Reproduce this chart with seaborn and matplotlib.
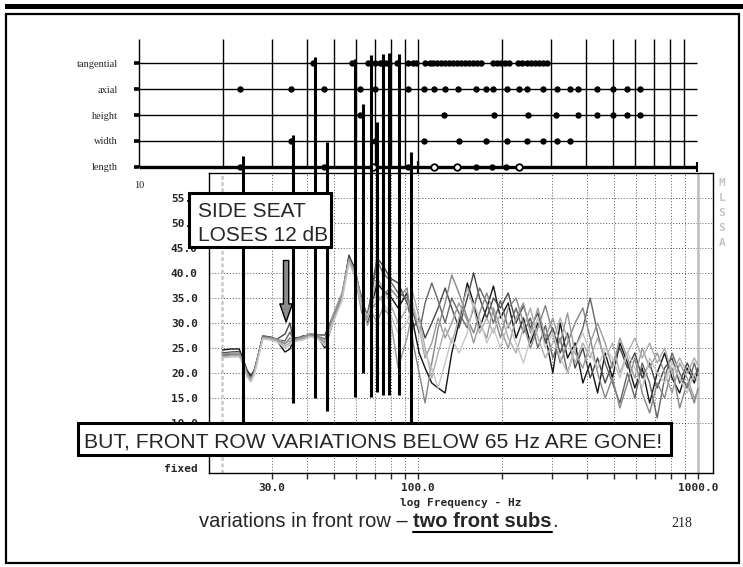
import matplotlib
matplotlib.use("Agg")
import matplotlib.pyplot as plt
from matplotlib.patches import Rectangle
from matplotlib.lines import Line2D
from matplotlib.ticker import NullLocator
import pandas as pd
import seaborn as sns

W, H = 743, 567
sns.set_style("white")
plt.rcParams["font.family"] = ["Liberation Sans", "DejaVu Sans"]
MONO = "DejaVu Sans Mono"
SERIF = "Liberation Serif"

# ── room-mode chart (top) ─────────────────────────────────────────────────────
ROW_LABELS = ["length", "width", "height", "axial", "tangential"]
MODAL_GRID_HZ = [10, 20, 30, 40, 50, 60, 70, 80, 90,
                 100, 200, 300, 400, 500, 600, 700, 800, 900]
TANGENTIAL_HZ = [42, 58, 66, 70, 73, 74, 77, 79, 84, 92, 96, 98,
                 106, 110, 113, 117, 121, 125, 129, 133, 138, 143, 147, 152,
                 157, 163, 168, 186, 192, 198, 205, 212, 228, 236, 246, 254,
                 262, 272, 280, 290]
AXIAL_HZ = [23, 35, 46, 62, 70, 92, 105, 114, 125, 139, 161, 175, 186, 208,
            230, 246, 280, 315, 351, 374, 439, 500, 561, 625]
HEIGHT_HZ = [62, 124, 187, 248, 313, 374, 439, 500, 561, 625]
WIDTH_HZ = [35, 70, 105, 140, 175, 208, 246, 280, 315, 351]
LENGTH_HZ = [23, 46, 92, 161, 184, 207]
LENGTH_OPEN_HZ = [69, 114, 138, 230]

# thick mode markers: frequency, top (row units), bottom (dB in lower chart)
MODE_HZ = [23.6, 35.6, 42.7, 47.2, 59.5, 63.5, 67.9, 71.3, 74.9, 78.7, 85.5, 94.4]
MODE_TOP = [0.42, 1.23, 4.23, 0.96, 4.15, 2.42, 4.31, 1.73, 4.35, 4.38, 4.35, 0.58]
MODE_END_DB = [8, 14, 15, 12.4, 15.2, 20, 15.2, 16.2, 15.6, 15.6, 15.6, 8]

# ── MLSSA response curves (bottom) ────────────────────────────────────────────
FREQ = [20, 21.5, 23, 23.7, 24.5, 25.3, 26, 26.6, 27.9, 29.6, 31.4, 33.5,
        34.9, 35.8, 38.8, 41.1, 43.6, 46.5, 49.7, 53.5, 56.7, 59.6,
        63, 66, 68.5, 71.4, 75, 79.4, 84.9, 91.4, 96, 101, 106, 112, 118,
        125, 132, 140, 150, 158, 166, 176, 186, 197, 210, 224, 238, 252,
        268, 285, 303, 322, 342, 364, 388, 412, 438, 466, 495, 526, 560,
        595, 632, 672, 715, 760, 808, 860, 915, 970, 1000]
seat_a = [24.6, 24.8, 24.8, 22.8, 20.6, 19.4, 20.6, 22.6, 27.4, 27.2, 26.4, 24.2,
          24.8, 26.4, 27.4, 27.6, 27.4, 25.0, 30.2, 35.0, 43.4, 40.8,
          34.0, 30.0, 33.5, 38.0, 36.5, 35.5, 33.0, 36.0, 30.0, 24.0, 21.0, 18.0, 17.0,
          16.0, 24.0, 30.0, 38.0, 34.0, 29.0, 33.0, 37.4, 31.0, 34.0, 27.0, 31.0, 26.0,
          30.0, 27.5, 20.0, 30.0, 23.0, 26.0, 18.0, 22.0, 16.0, 24.0, 19.0, 26.0, 22.0,
          17.0, 21.0, 14.0, 20.0, 24.0, 19.0, 16.0, 21.0, 18.0, 20.6]
seat_b = [24.0, 24.2, 24.3, 22.6, 20.2, 19.0, 20.4, 22.6, 27.2, 27.2, 26.8, 27.8,
          30.0, 27.0, 27.2, 27.8, 27.6, 27.6, 31.4, 35.4, 43.6, 40.0,
          35.0, 31.0, 37.0, 43.0, 41.5, 39.0, 38.0, 34.0, 29.0, 31.0, 27.0, 30.0, 33.0,
          37.0, 33.0, 29.0, 35.0, 40.0, 35.0, 31.0, 35.0, 33.0, 36.0, 30.0, 33.5, 29.0,
          32.0, 26.0, 29.0, 24.0, 28.0, 21.0, 25.0, 19.0, 23.0, 18.0, 22.0, 25.0, 21.0,
          24.0, 19.0, 22.0, 17.0, 21.0, 23.0, 18.0, 22.0, 19.0, 21.0]
seat_c = [23.6, 23.8, 23.8, 22.4, 19.8, 18.8, 20.2, 22.4, 27.4, 27.2, 26.6, 26.4,
          28.2, 26.8, 27.2, 27.8, 27.4, 26.8, 31.0, 35.2, 43.0, 39.6,
          33.0, 32.0, 36.0, 42.5, 40.0, 38.5, 36.0, 35.0, 32.0, 28.0, 34.0, 38.0, 34.5,
          30.0, 35.0, 32.0, 29.0, 33.0, 37.0, 34.0, 30.0, 34.5, 29.0, 33.0, 28.0, 31.0,
          25.0, 29.5, 23.0, 27.0, 20.0, 25.0, 29.0, 35.0, 28.0, 22.0, 18.0, 14.0, 20.0,
          15.0, 22.0, 18.0, 11.0, 19.0, 24.0, 20.0, 17.0, 22.0, 19.5]
seat_d = [23.4, 23.6, 23.6, 22.2, 19.6, 18.6, 20.0, 22.2, 27.2, 27.0, 26.6, 25.8,
          27.0, 26.6, 27.0, 27.6, 27.2, 26.2, 30.8, 35.6, 42.6, 39.4,
          32.0, 31.0, 33.0, 34.2, 35.5, 37.0, 35.0, 37.0, 26.0, 20.0, 14.0, 22.0, 29.0,
          34.0, 39.6, 36.0, 31.0, 28.0, 32.0, 36.0, 32.0, 27.0, 33.0, 35.0, 30.0, 25.0,
          29.0, 33.5, 28.0, 22.0, 26.0, 30.0, 33.0, 27.0, 20.0, 15.0, 19.0, 13.0, 18.0,
          23.0, 16.0, 12.0, 18.0, 15.0, 21.0, 13.0, 18.0, 14.0, 17.0]
seat_e = [23.8, 24.0, 24.0, 22.4, 20.0, 18.8, 20.2, 22.6, 27.0, 27.0, 26.8, 26.0,
          26.4, 26.6, 27.2, 27.8, 27.8, 26.0, 31.6, 36.0, 42.8, 40.4,
          34.5, 29.5, 32.0, 30.2, 33.0, 31.5, 21.0, 27.0, 33.0, 29.0, 23.0, 26.0, 31.0,
          27.0, 30.0, 34.0, 30.5, 26.0, 30.0, 27.0, 33.0, 29.0, 25.0, 31.0, 34.0, 28.0,
          33.0, 27.0, 31.0, 26.0, 32.0, 24.0, 21.0, 26.0, 30.0, 26.0, 21.0, 27.0, 23.0,
          19.0, 25.0, 21.0, 24.0, 20.0, 16.0, 22.0, 19.0, 15.0, 16.5]
seat_f = [23.2, 23.4, 23.4, 22.0, 19.4, 18.4, 19.8, 22.0, 27.0, 26.8, 26.4, 25.4,
          26.0, 26.4, 26.8, 27.4, 27.2, 25.6, 30.4, 34.8, 42.4, 39.8,
          33.5, 30.5, 35.0, 39.0, 37.0, 34.0, 30.0, 33.0, 36.0, 31.0, 25.0, 19.0, 24.0,
          29.0, 26.0, 31.0, 37.0, 33.0, 28.0, 31.0, 28.0, 32.0, 27.0, 24.0, 29.0, 33.0,
          27.0, 23.0, 26.0, 31.0, 27.0, 22.0, 26.0, 23.0, 27.0, 23.0, 26.0, 20.0, 24.0,
          27.0, 23.0, 26.0, 22.0, 25.0, 20.0, 23.0, 20.0, 23.0, 21.5]
seat_g = [23.0, 23.2, 23.2, 21.8, 19.2, 18.2, 19.6, 21.8, 26.8, 26.6, 26.2, 25.0,
          25.6, 26.2, 26.6, 27.2, 27.0, 25.4, 30.0, 34.4, 42.0, 39.2,
          33.0, 31.5, 34.0, 36.0, 34.0, 32.0, 28.0, 30.0, 34.0, 29.0, 24.0, 21.0, 17.0,
          22.0, 27.0, 24.0, 28.0, 34.0, 31.0, 26.0, 29.0, 25.0, 30.0, 26.0, 22.0, 27.0,
          31.0, 25.0, 28.0, 23.0, 20.0, 25.0, 28.0, 24.0, 21.0, 25.0, 23.0, 19.0, 24.0,
          21.0, 17.0, 23.0, 20.0, 18.0, 22.0, 19.0, 16.0, 20.0, 18.0]
SEATS = {"a": seat_a, "b": seat_b, "c": seat_c, "d": seat_d,
         "e": seat_e, "f": seat_f, "g": seat_g}
SEAT_GRAYS = ["#151515", "#474747", "#666666", "#858585", "#9a9a9a", "#adadad", "#c6c6c6"]

SPL_TICKS = [1, 10, 15, 20, 25, 30, 35, 40, 45, 50, 55]
SPL_TICK_LABELS = ["fixed", "10.0", "15.0", "20.0", "25.0", "30.0",
                   "35.0", "40.0", "45.0", "50.0", "55.0"]
SPL_GRID_DB = [10, 15, 20, 25, 30, 35, 40, 45, 50, 55]
SPL_GRID_HZ = [30, 40, 50, 60, 70, 80, 90, 100, 200, 300, 400, 500, 600, 700, 800, 900]
ARROW_HZ, ARROW_TIP_DB, ARROW_TAIL_DB = 33.8, 30.2, 42.5


def px_box(x0, y0, x1, y1):
    """pixel box (top-left origin) -> figure fraction [l, b, w, h]"""
    return [x0 / W, 1 - y1 / H, (x1 - x0) / W, (y1 - y0) / H]


def hz_top(px):
    return 10 * 10 ** ((px - 139) / 279)


def hz_low(px):
    return 100 * 10 ** ((px - 418) / 280)


fig = plt.figure(figsize=(W / 100, H / 100), dpi=100)
fig.patch.set_facecolor("white")

# slide frame
fig.add_artist(Rectangle((5 / W, 1 - 8.5 / H), 738 / W, 4.5 / H,
                         transform=fig.transFigure, color="black", lw=0))
fig.add_artist(Rectangle((6 / W, 1 - 563 / H), 733 / W, 549 / H,
                         transform=fig.transFigure, fill=False, ec="black", lw=1.6))

# ── modal chart ──
ax_m = fig.add_axes(px_box(125, 30, 705, 175))
ax_m.set_xscale("log")
ax_m.set_xlim(hz_top(125), hz_top(705))
ax_m.set_ylim(-(175 - 167) / 26, (167 - 30) / 26)
ax_m.patch.set_alpha(0)
for s in ax_m.spines.values():
    s.set_visible(False)
ax_m.vlines(MODAL_GRID_HZ, 0, 4.92, color="black", lw=1.0)
ax_m.hlines(range(1, 5), 10, 1000, color="black", lw=1.0)
ax_m.hlines(0, 10, 1000, color="black", lw=2.4)
ax_m.hlines(range(5), 9.6, 10, color="black", lw=2.6)
ax_m.vlines(1000, -0.2, 0.2, color="black", lw=1.5)
ax_m.plot([100], [0], marker="|", ms=9, mew=1.6, color="black")

rows = [(TANGENTIAL_HZ, 4), (AXIAL_HZ, 3), (HEIGHT_HZ, 2), (WIDTH_HZ, 1), (LENGTH_HZ, 0)]
dots = pd.concat([pd.DataFrame({"hz": hz, "row": r}) for hz, r in rows])
sns.scatterplot(data=dots, x="hz", y="row", ax=ax_m, color="black", s=21,
                linewidth=0, legend=False)
sns.scatterplot(x=LENGTH_OPEN_HZ, y=[0] * len(LENGTH_OPEN_HZ), ax=ax_m,
                color="white", edgecolor="black", s=22, linewidth=1.3, zorder=4)
ax_m.set_yticks(range(5), ROW_LABELS)
ax_m.set_xticks([10], ["10"])
ax_m.xaxis.set_minor_locator(NullLocator())
ax_m.tick_params(axis="both", length=0, labelsize=7.5, pad=5)
ax_m.tick_params(axis="x", pad=4)
for lbl in ax_m.get_yticklabels() + ax_m.get_xticklabels():
    lbl.set_fontfamily(SERIF)
ax_m.set_xlabel("")
ax_m.set_ylabel("")

# ── MLSSA response chart ──
ax = fig.add_axes(px_box(209, 173, 713, 473))
ax.set_xscale("log")
ax.set_xlim(hz_low(209), hz_low(713))
ax.set_ylim(0, 60)
for s in ax.spines.values():
    s.set_color("black")
    s.set_linewidth(1.0)
for db in SPL_GRID_DB:
    ax.axhline(db, color="#555555", lw=0.7, ls=(0, (1, 2)))
ax.vlines(SPL_GRID_HZ, 0, 60, colors="#555555", lw=0.7, linestyles=(0, (1, 2)))
ax.axvline(20, color="#c8c8c8", lw=1.8, ls=(0, (1.5, 1)))
ax.axvline(1000, color="#bdbdbd", lw=1.8)

curves = pd.concat([pd.DataFrame({"hz": FREQ, "db": v, "seat": k}) for k, v in SEATS.items()])
sns.lineplot(data=curves, x="hz", y="db", hue="seat", palette=SEAT_GRAYS,
             hue_order=list(SEATS), estimator=None, sort=False, lw=1.0,
             legend=False, ax=ax)

ax.set_xticks([30, 100, 1000], ["30.0", "100.0", "1000.0"])
ax.set_xticks([40, 50, 60, 70, 80, 90, 200, 300, 400, 500, 600, 700, 800, 900],
              minor=True)
ax.xaxis.set_minor_formatter(plt.NullFormatter())
ax.tick_params(axis="x", which="both", direction="out", length=4, width=1,
               bottom=True, labelsize=8, pad=3)
ax.set_yticks(SPL_TICKS, SPL_TICK_LABELS)
ax.tick_params(axis="y", length=0, labelsize=8, pad=8)
for lbl in ax.get_xticklabels() + ax.get_yticklabels():
    lbl.set_fontfamily(MONO)
    lbl.set_fontweight("bold")
ax.set_xlabel("log Frequency - Hz", fontfamily=MONO, fontweight="bold", fontsize=8,
              labelpad=4)
ax.set_ylabel("")

ax.annotate("", xy=(ARROW_HZ, ARROW_TIP_DB), xytext=(ARROW_HZ, ARROW_TAIL_DB),
            arrowprops=dict(facecolor="#8c8c8c", edgecolor="black", width=3.8,
                            headwidth=9, headlength=13, shrink=0, lw=1))

for i, ch in enumerate("MLSSA"):
    fig.text(722 / W, 1 - (183 + 15 * i) / H, ch, ha="center", va="center",
             fontfamily=MONO, fontweight="bold", fontsize=8, color="#c4c4c4")

# ── thick mode markers running through both charts ──
to_fig = fig.transFigure.inverted()
for f, top, end in zip(MODE_HZ, MODE_TOP, MODE_END_DB):
    x0, y0 = ax_m.transData.transform((f, top))
    _, y1 = ax.transData.transform((f, end))
    (fx, fy0), (_, fy1) = to_fig.transform([(x0, y0), (x0, y1)])
    fig.add_artist(Line2D([fx, fx], [fy0, fy1], color="black", lw=2.2,
                          solid_capstyle="butt", zorder=3))

# ── callout boxes ──
for (x0, y0, x1, y1) in [(189, 193, 331, 247), (78, 423, 671, 455)]:
    fig.add_artist(Rectangle((x0 / W, 1 - y1 / H), (x1 - x0) / W, (y1 - y0) / H,
                             transform=fig.transFigure, fc="white", ec="black",
                             lw=2.2, zorder=5))
fig.text(198 / W, 1 - 217 / H, "SIDE SEAT", fontsize=15, va="baseline", zorder=6)
fig.text(198 / W, 1 - 241 / H, "LOSES 12 dB", fontsize=15, va="baseline", zorder=6)
fig.text(84 / W, 1 - 447 / H, "BUT, FRONT ROW VARIATIONS BELOW 65 Hz ARE GONE!",
         fontsize=15.2, va="baseline", zorder=6)

# ── slide caption ──
r = fig.canvas.get_renderer()
base = 1 - 527 / H
t1 = fig.text(199 / W, base, "variations in front row \u2013 ", fontsize=14.5, va="baseline")
bb1 = t1.get_window_extent(r)
t2 = fig.text(bb1.x1 / W, base, "two front subs", fontsize=14.5, fontweight="bold",
              va="baseline")
bb2 = t2.get_window_extent(r)
fig.text(bb2.x1 / W, base, ".", fontsize=14.5, va="baseline")
fig.add_artist(Line2D([bb2.x0 / W, bb2.x1 / W], [1 - 532 / H] * 2, color="black", lw=1.5))
fig.text(682 / W, 1 - 527 / H, "218", fontsize=10, fontfamily=SERIF, ha="center",
         va="baseline")

fig.savefig("out.png", dpi=100)
plt.close(fig)
